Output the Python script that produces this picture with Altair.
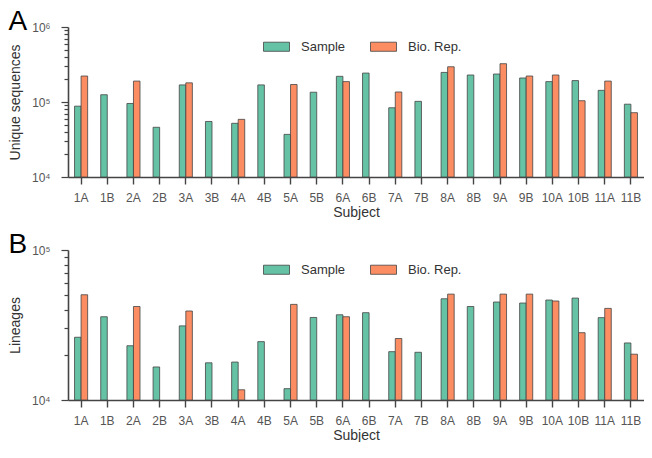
import altair as alt
import pandas as pd

subjects = ["1A", "1B", "2A", "2B", "3A", "3B", "4A", "4B", "5A", "5B", "6A",
            "6B", "7A", "7B", "8A", "8B", "9A", "9B", "10A", "10B", "11A", "11B"]
series = ["Sample", "Bio. Rep."]
colors = ["#66c2a5", "#fc8d62"]

seq_sample = [88000, 125000, 95500, 46000, 169000, 55000, 52000, 169000, 37000, 135000, 220000,
              243000, 83800, 102000, 248000, 229000, 236000, 209000, 187000, 193000, 143000, 93500]
seq_rep = [222000, None, 190000, None, 180000, None, 58700, None, 171000, None, 187000,
           None, 136000, None, 295000, None, 324000, 222000, 229000, 104000, 190000, 72000]

lin_sample = [26200, 35900, 23000, 16600, 31200, 17700, 17900, 24500, 11900, 35500, 37000,
              38200, 21000, 20800, 47300, 42000, 45000, 44300, 46400, 47800, 35400, 24000]
lin_rep = [50300, None, 42000, None, 39200, None, 11700, None, 43400, None, 35900,
           None, 25700, None, 50800, None, 50800, 50800, 45700, 28100, 40800, 20200]

ticks_a = [1e4, 2e4, 3e4, 4e4, 5e4, 6e4, 7e4, 8e4, 9e4,
           1e5, 2e5, 3e5, 4e5, 5e5, 6e5, 7e5, 8e5, 9e5, 1e6]
ticks_b = [1e4, 2e4, 3e4, 4e4, 5e4, 6e4, 7e4, 8e4, 9e4, 1e5]
baseline = 1e4

FONT = "Liberation Sans"
LABEL_EXPR = ("datum.value == 10000 ? '10⁴' : datum.value == 100000 ? '10⁵' : "
              "datum.value == 1000000 ? '10⁶' : ''")
TICK_EXPR = "indexof([10000, 100000, 1000000], datum.value) >= 0 ? 7 : 4"


def panel(vals_sample, vals_rep, ytitle, domain, tick_vals, letter):
    df = pd.DataFrame({
        "Subject": subjects * 2,
        "Type": ["Sample"] * len(subjects) + ["Bio. Rep."] * len(subjects),
        "Value": vals_sample + vals_rep,
    }).dropna()
    return alt.Chart(
        df,
        title=alt.TitleParams(letter, anchor="start", frame="bounds", fontSize=28,
                              fontWeight="normal", color="black", font=FONT, offset=-15),
    ).mark_bar(stroke="#444444", strokeWidth=0.8, clip=True).encode(
        x=alt.X("Subject:N", sort=subjects,
                scale=alt.Scale(paddingInner=0.5, paddingOuter=0.25),
                axis=alt.Axis(title="Subject", labelAngle=0, tickSize=7, labelPadding=8,
                              titlePadding=2, domainWidth=1.6, tickWidth=1.4)),
        xOffset=alt.XOffset("Type:N", sort=series, scale=alt.Scale(domain=series)),
        y=alt.Y("Value:Q",
                scale=alt.Scale(type="log", domain=domain),
                axis=alt.Axis(title=ytitle, values=tick_vals, labelExpr=LABEL_EXPR,
                              tickSize=alt.ExprRef(TICK_EXPR), labelPadding=11,
                              titlePadding=9, domainWidth=1.6, tickWidth=1.2)),
        y2=alt.datum(baseline),
        color=alt.Color("Type:N", sort=series,
                        scale=alt.Scale(domain=series, range=colors),
                        legend=alt.Legend(title=None, orient="none", legendX=195, legendY=6,
                                          direction="horizontal",
                                          symbolType="M-1,-0.35H1V0.35H-1Z", symbolSize=676,
                                          symbolStrokeColor="#444444", symbolStrokeWidth=0.8,
                                          symbolOpacity=1,
                                          labelFontSize=13, labelColor="#333333",
                                          labelOffset=11, columnPadding=22, padding=0)),
    ).properties(width=576, height=150)


top = panel(seq_sample, seq_rep, "Unique sequences", [1e4, 1e6], ticks_a, "A")
bottom = panel(lin_sample, lin_rep, "Lineages", [1e4, 1e5], ticks_b, "B")

chart = alt.vconcat(top, bottom, spacing=12).resolve_legend(color="independent").configure_view(
    stroke=None
).configure_axis(
    labelFont=FONT, titleFont=FONT, labelFontSize=12, titleFontSize=14,
    labelColor="#555555", titleColor="#333333", titleFontWeight="normal",
    domainColor="#444444", tickColor="#444444", grid=False,
).configure_legend(labelFont=FONT).properties(padding=0)

chart.save("out.html", embed_options={"renderer": "svg", "actions": False})
